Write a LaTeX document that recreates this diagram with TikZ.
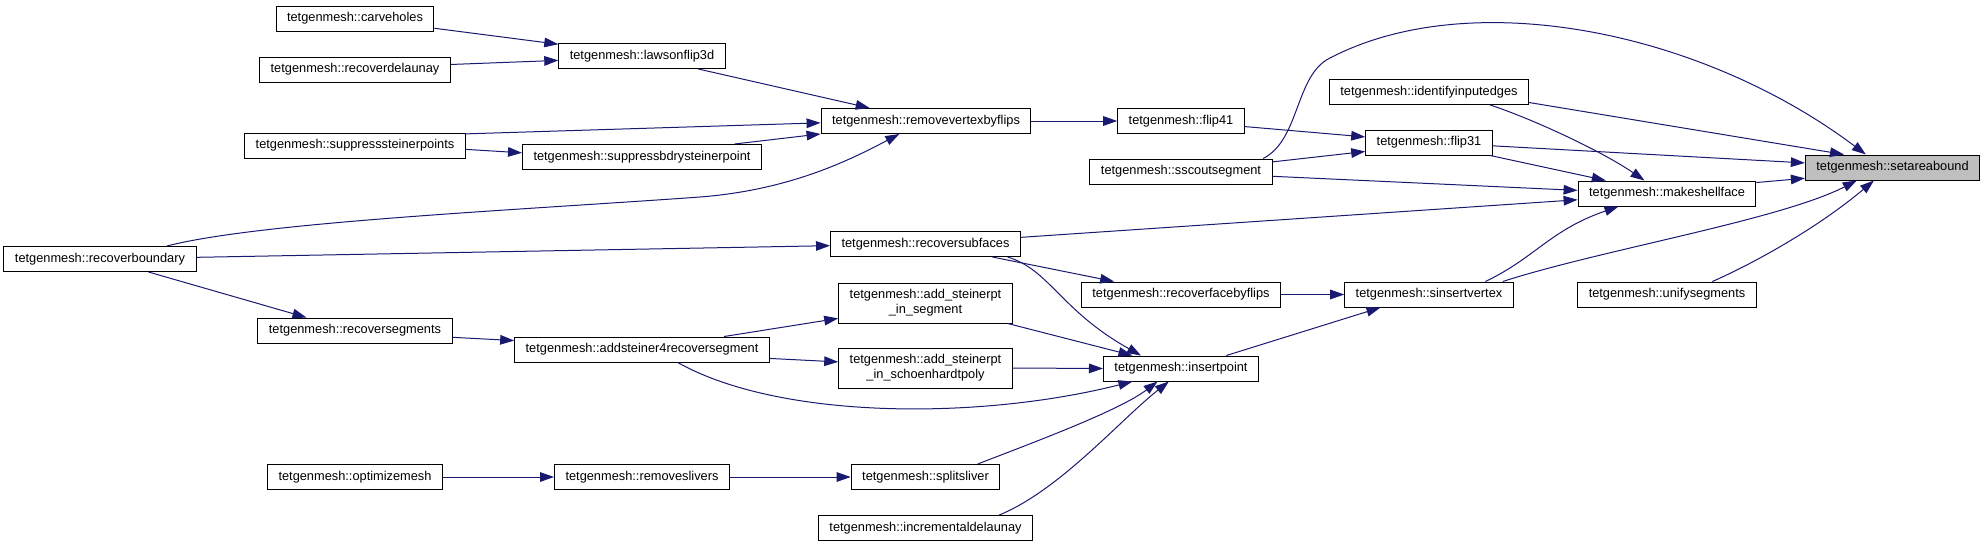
\documentclass[tikz,border=0pt]{standalone}
\usepackage{fontspec}
\setmainfont{Liberation Sans}
\usepackage{tikz}
\usetikzlibrary{arrows.meta}
\definecolor{callblue}{RGB}{25,25,112}
\definecolor{rootgrey}{RGB}{191,191,191}
\tikzset{
  fn/.style={draw=black, line width=0.75pt, fill=white, inner xsep=8.25pt, inner ysep=0pt,
    minimum height=18.75pt, font=\fontsize{9.6}{11.5}\selectfont},
  fntwo/.style={fn, align=center, minimum height=30pt},
  root/.style={fn, fill=rootgrey},
  call/.style={draw=callblue, line width=0.75pt, -{Triangle[length=10.5pt,width=7.2pt]}}
}
\begin{document}
\begin{tikzpicture}[x=0.75pt,y=0.75pt,yscale=-1,xscale=1]
\useasboundingbox (0,0) rectangle (1985,547);

%Functions
\node [root] (setareabound) at (1892.5,167.5) {tetgenmesh::setareabound};
\node [fn] (makeshellface) at (1667,193.5) {tetgenmesh::makeshellface};
\node [fn] (unifysegments) at (1667,294.5) {tetgenmesh::unifysegments};
\node [fn] (identifyinputedges) at (1429,92) {tetgenmesh::identifyinputedges};
\node [fn] (flipthreeone) at (1429,142.5) {tetgenmesh::flip31};
\node [fn] (sinsertvertex) at (1429,294.5) {tetgenmesh::sinsertvertex};
\node [fn] (flipfourone) at (1181,121) {tetgenmesh::flip41};
\node [fn] (sscoutsegment) at (1181,171.5) {tetgenmesh::sscoutsegment};
\node [fn] (recoverfacebyflips) at (1181,294.5) {tetgenmesh::recoverfacebyflips};
\node [fn] (insertpoint) at (1181,368.5) {tetgenmesh::insertpoint};
\node [fn] (removevertexbyflips) at (926,121) {tetgenmesh::removevertexbyflips};
\node [fn] (recoversubfaces) at (925.5,244) {tetgenmesh::recoversubfaces};
\node [fntwo] (addinsegment) at (925.5,303) {tetgenmesh::add\_steinerpt\\\_in\_segment};
\node [fntwo] (addinschoenhardt) at (925.5,368) {tetgenmesh::add\_steinerpt\\\_in\_schoenhardtpoly};
\node [fn] (splitsliver) at (925.5,477) {tetgenmesh::splitsliver};
\node [fn] (incrementaldelaunay) at (925.5,528) {tetgenmesh::incrementaldelaunay};
\node [fn] (lawsonflip) at (642,56) {tetgenmesh::lawsonflip3d};
\node [fn] (suppressbdry) at (642,157) {tetgenmesh::suppressbdrysteinerpoint};
\node [fn] (addsteiner) at (642,349.5) {tetgenmesh::addsteiner4recoversegment};
\node [fn] (removeslivers) at (642,477) {tetgenmesh::removeslivers};
\node [fn] (carveholes) at (355,18.5) {tetgenmesh::carveholes};
\node [fn] (recoverdelaunay) at (355,69.5) {tetgenmesh::recoverdelaunay};
\node [fn] (suppresssteiner) at (355,145.5) {tetgenmesh::suppresssteinerpoints};
\node [fn] (recoversegments) at (355,330.5) {tetgenmesh::recoversegments};
\node [fn] (optimizemesh) at (355,477) {tetgenmesh::optimizemesh};
\node [fn] (recoverboundary) at (100,259) {tetgenmesh::recoverboundary};

%Calls into setareabound
\draw [call] (sscoutsegment.9) .. controls (1300,140) and (1295,75) .. (1330,58) .. controls (1470,-15) and (1700,30) .. (setareabound.154);
\draw [call] (identifyinputedges.-6) -- (setareabound.165);
\draw [call] (flipthreeone.-3) -- (setareabound.177);
\draw [call] (makeshellface.7) -- (setareabound.-173);
\draw [call] (sinsertvertex.10) .. controls (1600,250) and (1780,220) .. (setareabound.-160);
\draw [call] (unifysegments.16) .. controls (1750,265) and (1815,230) .. (setareabound.-145);

%Calls into makeshellface
\draw [call] (identifyinputedges.-12) .. controls (1530,118) and (1600,150) .. (makeshellface.150);
\draw [call] (flipthreeone.-12) -- (makeshellface.168);
\draw [call] (sscoutsegment.-3) -- (makeshellface.178);
\draw [call] (recoversubfaces.4) -- (makeshellface.-176);
\draw [call] (sinsertvertex.13) .. controls (1535,258) and (1550,230) .. (makeshellface.-165);

%Calls into flip31 and sinsertvertex
\draw [call] (flipfourone.-5) -- (flipthreeone.175);
\draw [call] (sscoutsegment.6) -- (flipthreeone.-172);
\draw [call] (recoverfacebyflips.east) -- (sinsertvertex.west);
\draw [call] (insertpoint.16) -- (sinsertvertex.-165);

%Calls into removevertexbyflips
\draw [call] (removevertexbyflips.east) -- (flipfourone.west);
\draw [call] (lawsonflip.-13) -- (removevertexbyflips.167);
\draw [call] (suppresssteiner.6) -- (removevertexbyflips.-179);
\draw [call] (suppressbdry.8) -- (removevertexbyflips.-173);
\draw [call] (recoverboundary.11) .. controls (260,222) and (520,210) .. (700,197) .. controls (790,190) and (850,160) .. (removevertexbyflips.-154);
\draw [call] (carveholes.-7) -- (lawsonflip.172);
\draw [call] (recoverdelaunay.3) -- (lawsonflip.-177);
\draw [call] (suppresssteiner.-2) -- (suppressbdry.178);

%Calls from recoverboundary
\draw [call] (recoverboundary.1) -- (recoversubfaces.-179);
\draw [call] (recoversubfaces.-11) -- (recoverfacebyflips.169);
\draw [call] (recoversubfaces.-9) .. controls (1050,270) and (1060,310) .. (insertpoint.162);
\draw [call] (recoverboundary.-15) -- (recoversegments.165);
\draw [call] (recoversegments.-4) -- (addsteiner.176);

%Calls into insertpoint
\draw [call] (addsteiner.9) -- (addinsegment.-170);
\draw [call] (addsteiner.-4) -- (addinschoenhardt.176);
\draw [call] (addsteiner.-20) .. controls (780,420) and (980,420) .. (insertpoint.-165);
\draw [call] (addinsegment.-14) -- (insertpoint.165);
\draw [call] (addinschoenhardt.east) -- (insertpoint.west);
\draw [call] (optimizemesh.east) -- (removeslivers.west);
\draw [call] (removeslivers.east) -- (splitsliver.west);
\draw [call] (splitsliver.14) .. controls (1040,440) and (1120,410) .. (insertpoint.-151);
\draw [call] (incrementaldelaunay.10) .. controls (1060,490) and (1120,420) .. (insertpoint.-133);

\end{tikzpicture}
\end{document}
